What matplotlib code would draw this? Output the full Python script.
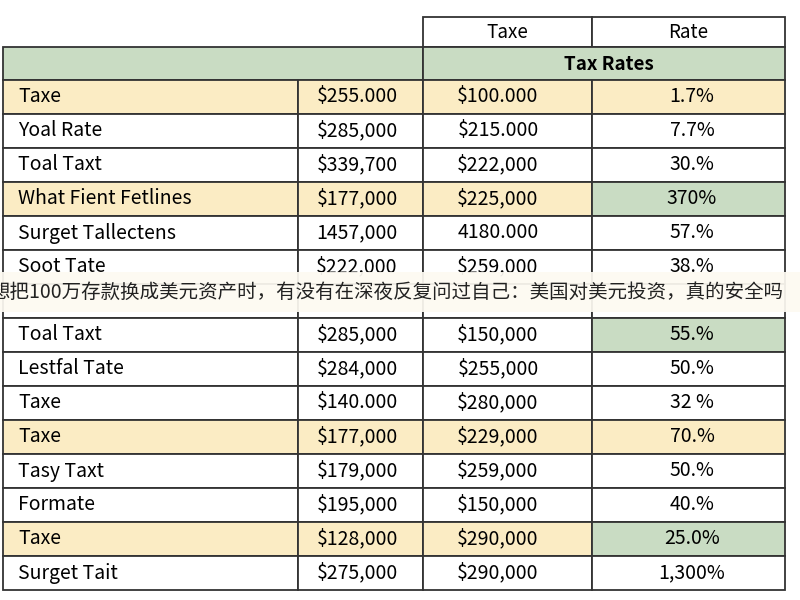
import matplotlib.pyplot as plt
from matplotlib.patches import Rectangle

plt.rcParams['font.family'] = ['Noto Sans CJK SC', 'DejaVu Sans']

names = ["Taxe", "Yoal Rate", "Toal Taxt", "What Fient Fetlines", "Surget Tallectens",
         "Soot Tate", "", "Toal Taxt", "Lestfal Tate", "Taxe", "Taxe",
         "Tasy Taxt", "Formate", "Taxe", "Surget Tait"]
col_a = ["$255.000", "$285,000", "$339,700", "$177,000", "1457,000", "$222,000", "",
         "$285,000", "$284,000", "$140.000", "$177,000", "$179,000", "$195,000", "$128,000", "$275,000"]
col_b = ["$100.000", "$215.000", "$222,000", "$225,000", "4180.000", "$259,000", "",
         "$150,000", "$255,000", "$280,000", "$229,000", "$259,000", "$150,000", "$290,000", "$290,000"]
rates = ["1.7%", "7.7%", "30.%", "370%", "57.%", "38.%", "",
         "55.%", "50.%", "32 %", "70.%", "50.%", "40.%", "25.0%", "1,300%"]
yellow_rows = [0, 3, 10, 13]
green_rate_rows = [3, 7, 13]
banner = "想把100万存款换成美元资产时，有没有在深夜反复问过自己：美国对美元投资，真的安全吗"

YELLOW = "#fbecc4"
GREEN = "#c9dcc3"
EDGE = "#333333"

fig = plt.figure(figsize=(8, 6), dpi=100)
ax = fig.add_axes([0, 0, 1, 1])
ax.set_xlim(0, 800)
ax.set_ylim(600, 0)
ax.axis("off")

xs = [3, 298, 423, 592, 785]
top = 80
rh = 34.0

def cell(x0, x1, y0, h, fc):
    ax.add_patch(Rectangle((x0, y0), x1 - x0, h, facecolor=fc, edgecolor=EDGE, lw=1.3))

# header rows
cell(423, 592, 17, 30, "white")
cell(592, 785, 17, 30, "white")
ax.text(507, 32, "Taxe", ha="center", va="center", fontsize=13.5)
ax.text(688, 32, "Rate", ha="center", va="center", fontsize=13.5)
cell(3, 423, 47, 33, GREEN)
cell(423, 785, 47, 33, GREEN)
ax.text(609, 64, "Tax Rates", ha="center", va="center", fontsize=13.5, fontweight="bold")

for i in range(len(names)):
    y = top + i * rh
    bg = YELLOW if i in yellow_rows else "white"
    cell(xs[0], xs[1], y, rh, bg)
    cell(xs[1], xs[2], y, rh, bg)
    cell(xs[2], xs[3], y, rh, bg)
    cell(xs[3], xs[4], y, rh, GREEN if i in green_rate_rows else bg)
    cy = y + rh / 2
    ax.text(18, cy, names[i], ha="left", va="center", fontsize=14)
    ax.text(357, cy, col_a[i], ha="center", va="center", fontsize=14)
    ax.text(498, cy, col_b[i], ha="center", va="center", fontsize=14)
    ax.text(692, cy, rates[i], ha="center", va="center", fontsize=14)

# overlay banner
ax.add_patch(Rectangle((0, 272), 800, 40, facecolor="#fdfaf2", alpha=0.93, edgecolor="none", zorder=5))
ax.text(-10, 292, banner, ha="left", va="center", fontsize=14, zorder=6, color="#222222",
        clip_on=True)

fig.savefig("out.png", dpi=100)
